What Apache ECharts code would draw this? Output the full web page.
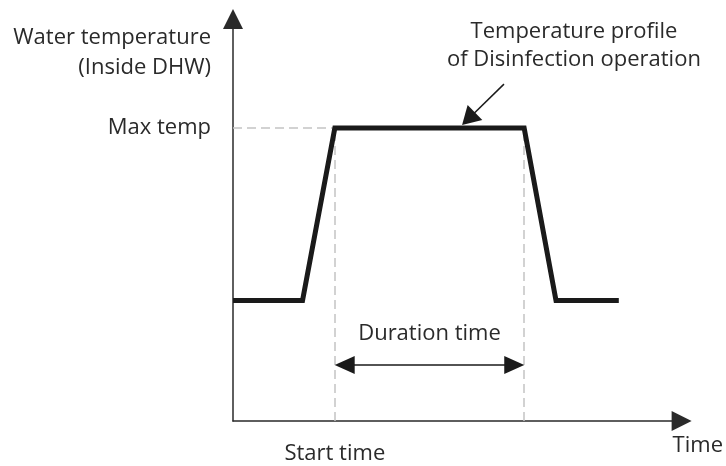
<!DOCTYPE html>
<html>
<head>
<meta charset="utf-8">
<script src="https://cdn.jsdelivr.net/npm/echarts@6/dist/echarts.min.js"></script>
<style>
html,body{margin:0;padding:0;background:#fff}
#chart{width:726px;height:466px}
</style>
</head>
<body>
<div id="chart"></div>
<script>
// profile of the disinfection operation (time / temperature in relative units)
var times = [0, 15.5, 22.7, 64.9, 72, 86];
var temps = [30, 30, 72.9, 72.9, 30, 30];
var startTime = 22.7;
var endTime = 64.9;
var maxTemp = 72.9;
var durationLevel = 13.9;
var pointerFrom = [60.4, 83.8];
var pointerTo = [52.5, 75.2];
var noteAt = [76, 93.4];
// arrow heads sit centred on the end point, so pull them in by half their length
var headInset = 2.2;

var FONT = 'Open Sans';
var TXT = '#2a2a2a';
var FS = 22;

var lineData = times.map(function (t, i) { return [t, temps[i]]; });

var myChart = echarts.init(document.getElementById('chart'));
var option = {
  animation: false,
  backgroundColor: '#fff',
  textStyle: { fontFamily: FONT },
  grid: { left: 233, right: 43, top: 19, bottom: 45 },
  xAxis: {
    type: 'value', min: 0, max: 100,
    name: 'Time',
    nameLocation: 'end',
    nameGap: -9,
    nameTextStyle: { color: TXT, fontSize: FS, fontFamily: FONT, align: 'left', verticalAlign: 'top', padding: [14, 0, 0, 0] },
    axisLine: { show: true, symbol: ['none', 'triangle'], symbolSize: [20, 20], lineStyle: { color: TXT, width: 1.5 } },
    axisTick: { show: false },
    splitLine: { show: false },
    axisLabel: {
      customValues: [startTime],
      formatter: function () { return 'Start time'; },
      color: TXT, fontSize: FS, fontFamily: FONT, margin: 22
    }
  },
  yAxis: {
    type: 'value', min: 0, max: 100,
    name: 'Water temperature\n(Inside DHW)',
    nameLocation: 'end',
    nameGap: -4,
    nameTextStyle: { color: TXT, fontSize: FS, fontFamily: FONT, align: 'right', verticalAlign: 'top', lineHeight: 30, padding: [0, 22, 0, 0] },
    axisLine: { show: true, symbol: ['none', 'triangle'], symbolSize: [20, 20], lineStyle: { color: TXT, width: 1.5 } },
    axisTick: { show: false },
    splitLine: { show: false },
    axisLabel: {
      customValues: [maxTemp],
      formatter: function () { return 'Max temp'; },
      color: TXT, fontSize: FS, fontFamily: FONT, margin: 22
    }
  },
  series: [
    {
      type: 'line',
      data: lineData,
      symbol: 'none',
      silent: true,
      z: 5,
      lineStyle: { color: '#1a1a1a', width: 5, join: 'miter', cap: 'butt' },
      markLine: {
        silent: true,
        symbol: 'none',
        label: { show: false },
        lineStyle: { color: '#c4c4c4', width: 1.5, type: [9, 5] },
        data: [
          [{ coord: [0, maxTemp] }, { coord: [startTime, maxTemp] }],
          [{ coord: [startTime, 0] }, { coord: [startTime, maxTemp] }],
          [{ coord: [endTime, 0] }, { coord: [endTime, maxTemp] }]
        ]
      }
    },
    {
      type: 'line',
      data: [],
      silent: true,
      markLine: {
        silent: true,
        symbol: ['triangle', 'triangle'],
        symbolSize: [18, 20],
        label: { show: false },
        lineStyle: { color: '#1a1a1a', width: 1.5, type: 'solid' },
        data: [
          [
            { coord: [startTime + headInset, durationLevel] },
            {
              coord: [endTime - headInset, durationLevel],
              label: { show: true, position: 'middle', formatter: 'Duration time', color: TXT, fontSize: FS, fontFamily: FONT, distance: 20 }
            }
          ],
          [
            { coord: pointerFrom, symbol: 'none' },
            { coord: pointerTo, symbol: 'triangle', symbolSize: [21, 18] }
          ]
        ]
      },
      markPoint: {
        silent: true,
        symbol: 'circle',
        symbolSize: 0,
        label: {
          show: true, position: 'inside',
          formatter: 'Temperature profile\nof Disinfection operation',
          color: TXT, fontSize: FS, fontFamily: FONT, lineHeight: 28, align: 'center'
        },
        data: [{ coord: noteAt }]
      }
    }
  ]
};
myChart.setOption(option);
window.addEventListener('resize', function () {
  myChart.resize();
});
</script>
</body>
</html>
